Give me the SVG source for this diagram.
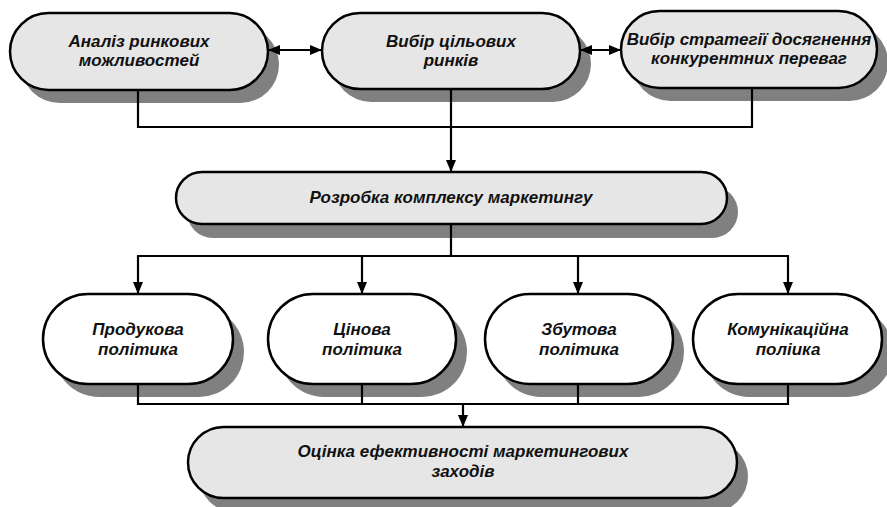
<svg xmlns="http://www.w3.org/2000/svg" width="887" height="507" viewBox="0 0 887 507">
<defs>
<marker id="ah" markerUnits="userSpaceOnUse" markerWidth="12" markerHeight="12" viewBox="0 0 12 12" refX="11" refY="6" orient="auto-start-reverse">
<path d="M0,1 L12,6 L0,11 Z" fill="#000"/>
</marker>
</defs>
<style>
.sh{fill:#808080;stroke:none}
.g{fill:#e6e6e6;stroke:#000;stroke-width:2.5}
.w{fill:#fff;stroke:#000;stroke-width:2.5}
text{font-family:"Liberation Sans",Arial,sans-serif;font-weight:bold;font-style:italic;font-size:17px;text-anchor:middle;fill:#111}
.c{fill:none;stroke:#000;stroke-width:2.2}
</style>
<rect width="887" height="507" fill="#fff"/>

<g id="n1">
<rect class="sh" x="21" y="26" width="258" height="77" rx="38.5"/>
<rect class="g" x="10" y="13" width="258" height="77" rx="38.5"/>
<text x="139" y="47">Аналіз ринкових</text>
<text x="139" y="66">можливостей</text>
</g>
<g id="n2">
<rect class="sh" x="333" y="26" width="258" height="76" rx="38"/>
<rect class="g" x="322" y="13" width="258" height="76" rx="38"/>
<text x="451" y="47">Вибір цільових</text>
<text x="451" y="66">ринків</text>
</g>
<g id="n3">
<rect class="sh" x="632" y="24" width="256" height="77" rx="38.5"/>
<rect class="g" x="621" y="11" width="256" height="77" rx="38.5"/>
<text x="749" y="45">Вибір стратегії досягнення</text>
<text x="749" y="64">конкурентних переваг</text>
</g>
<g id="n4">
<rect class="sh" x="187" y="186" width="551" height="52" rx="26"/>
<rect class="g" x="176" y="172" width="551" height="52" rx="26"/>
<text x="451" y="203">Розробка комплексу маркетингу</text>
</g>
<g id="n5">
<rect class="sh" x="54" y="307" width="190" height="90" rx="45"/>
<rect class="w" x="43" y="294" width="190" height="90" rx="45"/>
<text x="138" y="335">Продукова</text>
<text x="138" y="355">політика</text>
</g>
<g id="n6">
<rect class="sh" x="279" y="307" width="188" height="90" rx="45"/>
<rect class="w" x="268" y="294" width="188" height="90" rx="45"/>
<text x="362" y="335">Цінова</text>
<text x="362" y="355">політика</text>
</g>
<g id="n7">
<rect class="sh" x="496" y="307" width="188" height="90" rx="45"/>
<rect class="w" x="485" y="294" width="188" height="90" rx="45"/>
<text x="579" y="335">Збутова</text>
<text x="579" y="355">політика</text>
</g>
<g id="n8">
<rect class="sh" x="704" y="307" width="189" height="90" rx="45"/>
<rect class="w" x="693" y="294" width="189" height="90" rx="45"/>
<text x="788" y="335">Комунікаційна</text>
<text x="788" y="355">поліика</text>
</g>
<g id="n9">
<rect class="sh" x="199" y="441" width="549" height="71" rx="35.5"/>
<rect class="g" x="188" y="427" width="549" height="71" rx="35.5"/>
<text x="463" y="457">Оцінка ефективності маркетингових</text>
<text x="463" y="477">заходів</text>
</g>

<g id="connectors">
<line class="c" x1="269" y1="50" x2="321" y2="50" marker-start="url(#ah)" marker-end="url(#ah)"/>
<line class="c" x1="581" y1="50" x2="620" y2="50" marker-start="url(#ah)" marker-end="url(#ah)"/>
<polyline class="c" points="138,90 138,127 752,127 752,88"/>
<line class="c" x1="451" y1="89" x2="451" y2="127"/>
<line class="c" x1="451" y1="127" x2="451" y2="171" marker-end="url(#ah)"/>
<line class="c" x1="451" y1="224" x2="451" y2="256"/>
<line class="c" x1="137" y1="256" x2="789" y2="256"/>
<line class="c" x1="138" y1="256" x2="138" y2="293" marker-end="url(#ah)"/>
<line class="c" x1="362" y1="256" x2="362" y2="293" marker-end="url(#ah)"/>
<line class="c" x1="578" y1="256" x2="578" y2="293" marker-end="url(#ah)"/>
<line class="c" x1="788" y1="256" x2="788" y2="293" marker-end="url(#ah)"/>
<polyline class="c" points="138,384 138,404 788,404 788,384"/>
<line class="c" x1="362" y1="384" x2="362" y2="404"/>
<line class="c" x1="578" y1="384" x2="578" y2="404"/>
<line class="c" x1="463" y1="404" x2="463" y2="426" marker-end="url(#ah)"/>
</g>
</svg>
